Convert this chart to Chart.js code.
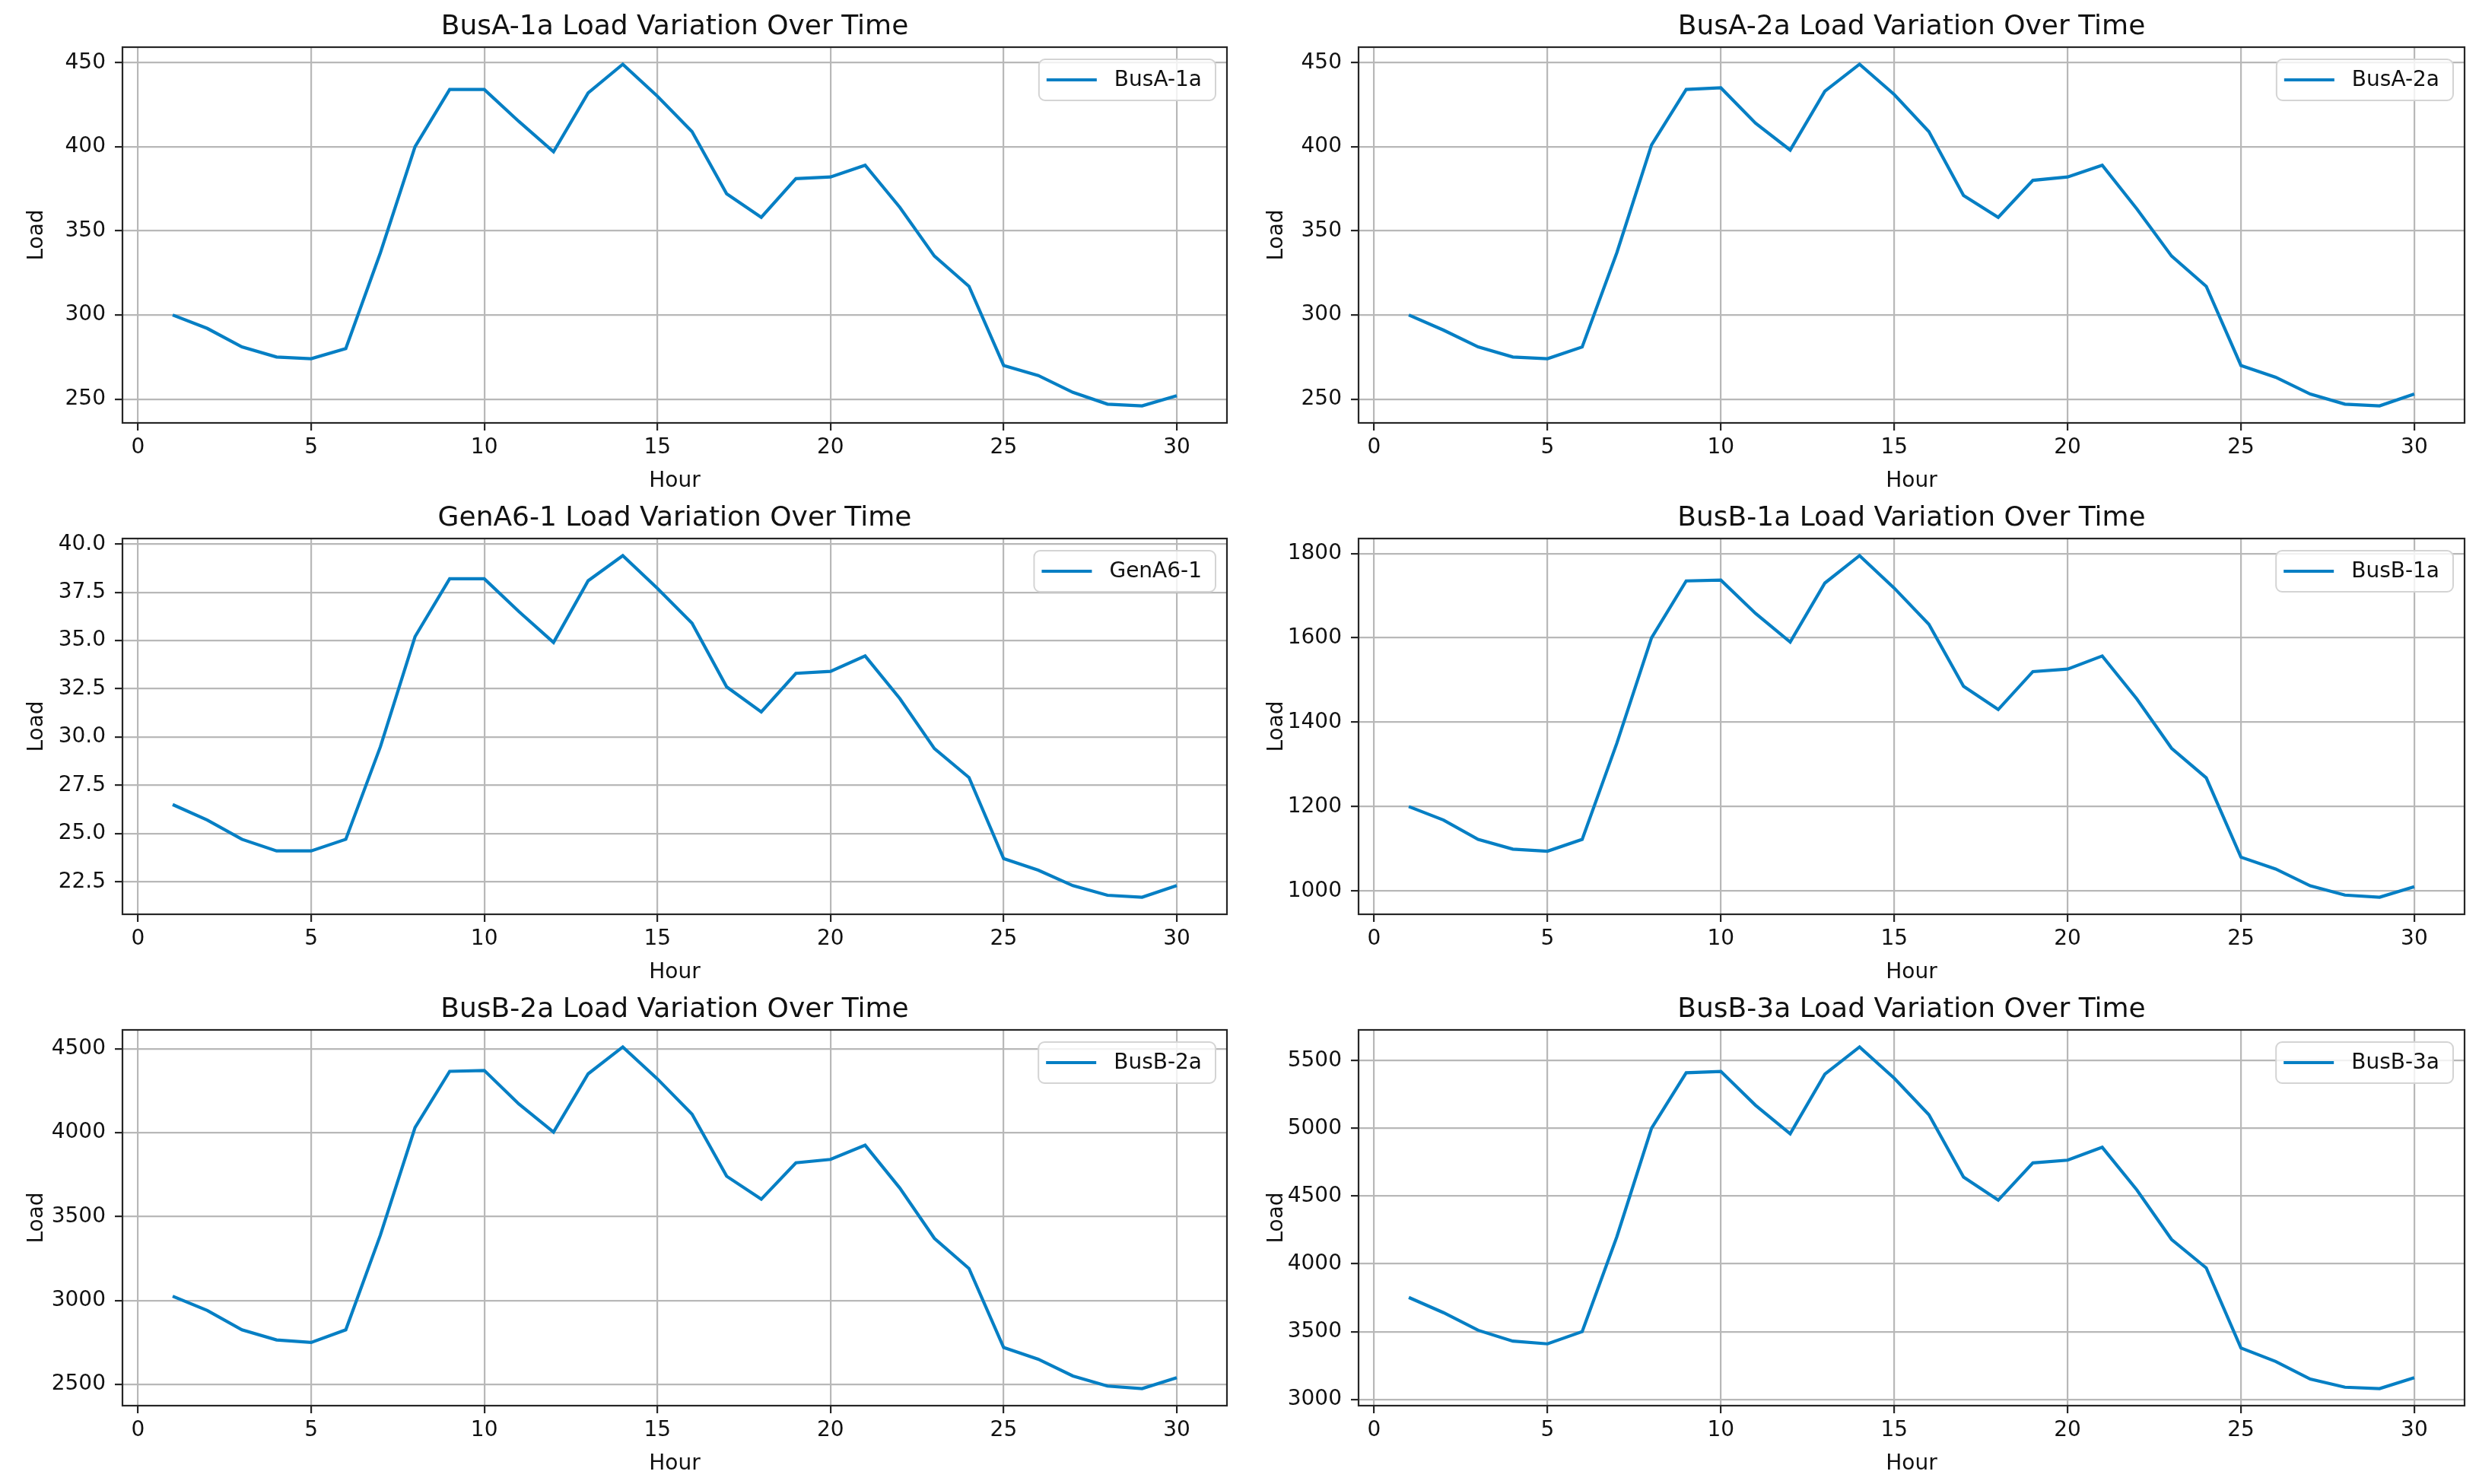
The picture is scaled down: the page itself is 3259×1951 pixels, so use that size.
<!DOCTYPE html>
<html>
<head>
<meta charset="utf-8">
<script src="https://cdn.jsdelivr.net/npm/chart.js@4.4.0/dist/chart.umd.min.js"></script>
<style>
  body { margin: 0; background: #fff; }
  #fig { position: relative; width: 3259px; height: 1951px; background: #fff; }
  #fig canvas { position: absolute; }
</style>
</head>
<body>
<div id="fig"></div>
<script>
// hours on the x axis
const hours = [1, 2, 3, 4, 5, 6, 7, 8, 9, 10, 11, 12, 13, 14, 15, 16, 17, 18, 19, 20, 21, 22, 23, 24, 25, 26, 27, 28, 29, 30];

// load per series
const busA1a = [300, 292, 281, 275, 274, 280, 337, 400, 434, 434, 415, 397, 432, 449, 430, 409, 372, 358, 381, 382, 389, 364, 335, 317, 270, 264, 254, 247, 246, 252];
const busA2a = [300, 291, 281, 275, 274, 281, 337, 401, 434, 435, 414, 398, 433, 449, 431, 409, 371, 358, 380, 382, 389, 363, 335, 317, 270, 263, 253, 247, 246, 253];
const genA61 = [26.5, 25.7, 24.7, 24.1, 24.1, 24.7, 29.5, 35.2, 38.2, 38.2, 36.5, 34.9, 38.1, 39.4, 37.7, 35.9, 32.6, 31.3, 33.3, 33.4, 34.2, 32.0, 29.4, 27.9, 23.7, 23.1, 22.3, 21.8, 21.7, 22.3];
const busB1a = [1200, 1168, 1122, 1099, 1094, 1122, 1350, 1600, 1735, 1737, 1658, 1590, 1730, 1795, 1718, 1632, 1485, 1430, 1520, 1526, 1557, 1455, 1338, 1268, 1080, 1052, 1012, 990, 985, 1010];
const busB2a = [3025, 2940, 2825, 2765, 2750, 2825, 3390, 4030, 4365, 4370, 4170, 4003, 4350, 4510, 4320, 4110, 3740, 3603, 3820, 3840, 3925, 3670, 3370, 3190, 2720, 2650, 2550, 2490, 2475, 2540];
const busB3a = [3752, 3640, 3510, 3430, 3410, 3500, 4200, 5000, 5410, 5420, 5170, 4960, 5400, 5600, 5370, 5100, 4640, 4470, 4745, 4765, 4860, 4545, 4180, 3970, 3380, 3280, 3150, 3090, 3080, 3160];

// tick labels
const xTicks = [0, 5, 10, 15, 20, 25, 30];
const ticksBusA = [250, 300, 350, 400, 450];
const ticksGen = [22.5, 25.0, 27.5, 30.0, 32.5, 35.0, 37.5, 40.0];
const ticksBusB1 = [1000, 1200, 1400, 1600, 1800];
const ticksBusB2 = [2500, 3000, 3500, 4000, 4500];
const ticksBusB3 = [3000, 3500, 4000, 4500, 5000, 5500];

const panels = [
  { name: 'BusA-1a', values: busA1a, yTicks: ticksBusA, dec: 0, col: 0, row: 0 },
  { name: 'BusA-2a', values: busA2a, yTicks: ticksBusA, dec: 0, col: 1, row: 0 },
  { name: 'GenA6-1', values: genA61, yTicks: ticksGen, dec: 1, col: 0, row: 1 },
  { name: 'BusB-1a', values: busB1a, yTicks: ticksBusB1, dec: 0, col: 1, row: 1 },
  { name: 'BusB-2a', values: busB2a, yTicks: ticksBusB2, dec: 0, col: 0, row: 2 },
  { name: 'BusB-3a', values: busB3a, yTicks: ticksBusB3, dec: 0, col: 1, row: 2 },
];

const FONT = 'DejaVu Sans';
const LINE = '#067fc4';
const GRID = '#b8b8b8';
const INK = '#111';

// canvas cells: [left, width, yAxisWidth, rightPad]
const cols = [[0, 1630, 161, 17], [1630, 1629, 156, 19]];
const rowTops = [0, 646, 1292];
const CELL_H = 650;

// matplotlib-like frame, title and legend box
const mplDecor = {
  id: 'mplDecor',
  afterDraw(chart, args, opts) {
    const ctx = chart.ctx;
    const a = chart.chartArea;
    ctx.save();
    ctx.strokeStyle = '#262626';
    ctx.lineWidth = 2.2;
    ctx.strokeRect(a.left, a.top, a.right - a.left, a.bottom - a.top);

    ctx.fillStyle = INK;
    ctx.font = '36px "' + FONT + '"';
    ctx.textAlign = 'center';
    ctx.textBaseline = 'alphabetic';
    ctx.fillText(opts.title, (a.left + a.right) / 2, a.top - 17);

    const ds = chart.data.datasets[0];
    ctx.font = '28px "' + FONT + '"';
    const tw = ctx.measureText(ds.label).width;
    const w = 10 + 66 + 23 + tw + 18, h = 54;
    const x = a.right - 15 - w, y = a.top + 16;
    ctx.beginPath();
    ctx.roundRect(x, y, w, h, 8);
    ctx.fillStyle = 'rgba(255,255,255,0.8)';
    ctx.fill();
    ctx.strokeStyle = '#d4d4d4';
    ctx.lineWidth = 2;
    ctx.stroke();
    ctx.strokeStyle = ds.borderColor;
    ctx.lineWidth = ds.borderWidth;
    ctx.beginPath();
    ctx.moveTo(x + 10, y + h / 2);
    ctx.lineTo(x + 76, y + h / 2);
    ctx.stroke();
    ctx.fillStyle = INK;
    ctx.textAlign = 'left';
    ctx.textBaseline = 'middle';
    ctx.fillText(ds.label, x + 99, y + h / 2 + 1);
    ctx.restore();
  }
};

const fig = document.getElementById('fig');

panels.forEach(p => {
  const [cLeft, cWidth, yW, padR] = cols[p.col];
  const canvas = document.createElement('canvas');
  canvas.style.left = cLeft + 'px';
  canvas.style.top = rowTops[p.row] + 'px';
  canvas.style.width = cWidth + 'px';
  canvas.style.height = CELL_H + 'px';
  canvas.width = cWidth;
  canvas.height = CELL_H;
  fig.appendChild(canvas);

  // 5% margins like matplotlib autoscale
  const lo = Math.min(...p.values), hi = Math.max(...p.values);
  const yPad = (hi - lo) * 0.05;
  const xPad = (hours[hours.length - 1] - hours[0]) * 0.05;

  new Chart(canvas, {
    type: 'line',
    data: {
      datasets: [{
        label: p.name,
        data: hours.map((h, i) => ({ x: h, y: p.values[i] })),
        borderColor: LINE,
        borderWidth: 4.2,
        pointRadius: 0,
        tension: 0,
        fill: false,
      }]
    },
    options: {
      responsive: false,
      animation: false,
      devicePixelRatio: 1,
      layout: { padding: { left: 0, right: padR, top: 62, bottom: 0 } },
      plugins: {
        legend: { display: false },
        tooltip: { enabled: false },
        title: { display: false },
        mplDecor: { title: p.name + ' Load Variation Over Time' },
      },
      scales: {
        x: {
          type: 'linear',
          min: hours[0] - xPad,
          max: hours[hours.length - 1] + xPad,
          afterBuildTicks: s => { s.ticks = xTicks.map(v => ({ value: v })); },
          afterFit: s => { s.height = 94; },
          border: { display: false },
          grid: { color: GRID, lineWidth: 2.2, tickColor: '#262626', tickWidth: 2.2, tickLength: 10 },
          ticks: { color: INK, font: { family: FONT, size: 28 }, padding: 6, maxRotation: 0, autoSkip: false },
          title: { display: true, text: 'Hour', color: INK, font: { family: FONT, size: 28 }, padding: { top: 0, bottom: 0 } },
        },
        y: {
          type: 'linear',
          min: lo - yPad,
          max: hi + yPad,
          afterBuildTicks: s => { s.ticks = p.yTicks.map(v => ({ value: v })); },
          afterFit: s => { s.width = yW; },
          border: { display: false },
          grid: { color: GRID, lineWidth: 2.2, tickColor: '#262626', tickWidth: 2.2, tickLength: 10 },
          ticks: { color: INK, font: { family: FONT, size: 28 }, padding: 12, autoSkip: false,
                   callback: v => Number(v).toFixed(p.dec) },
          title: { display: true, text: 'Load', color: INK, font: { family: FONT, size: 28 }, padding: { top: 32, bottom: 0 } },
        },
      },
    },
    plugins: [mplDecor],
  });
});
</script>
</body>
</html>
